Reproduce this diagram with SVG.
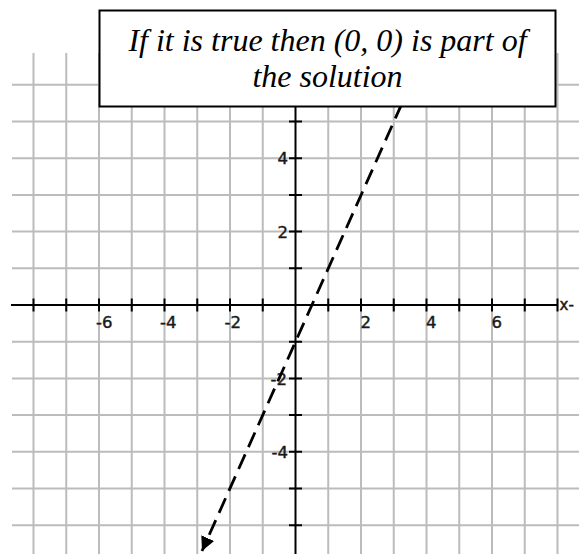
<svg xmlns="http://www.w3.org/2000/svg" width="584" height="554" viewBox="0 0 584 554">
  <style>
    .grid { stroke: #bcbcbc; stroke-width: 2; fill: none; }
    .axis { stroke: #000; stroke-width: 2; fill: none; }
    .tick { stroke: #000; stroke-width: 2; }
    .lbl { font-family: "DejaVu Sans", Verdana, sans-serif; font-size: 16.5px; fill: #1a1a1a; stroke: #1a1a1a; stroke-width: 0.45; }
    .ylbl { text-anchor: end; }
    .line { stroke: #000; stroke-width: 2.8; fill: none; stroke-dasharray: 16 8; }
    .callout { fill: #fff; stroke: #000; stroke-width: 2; }
    .ctext { font-family: "Liberation Serif", "Times New Roman", serif; font-style: italic; font-size: 32px; fill: #000; text-anchor: middle; }
  </style>
  <defs>
    <marker id="arrow" markerUnits="userSpaceOnUse" markerWidth="16" markerHeight="16" refX="14" refY="0" viewBox="0 -8 16 16" orient="auto">
      <path d="M0,-7 L14,0 L0,7 Z" fill="#000" stroke="none"/>
    </marker>
  </defs>
  <rect width="584" height="554" fill="#fff"/>

  <g id="grid">
    <path class="grid" d="M33.5,53V554 M66.25,53V554 M99,53V554 M131.75,53V554 M164.5,53V554 M197.25,53V554 M230,53V554 M262.75,53V554 M328.25,53V554 M361,53V554 M393.75,53V554 M426.5,53V554 M459.25,53V554 M492,53V554 M524.75,53V554 M557.5,53V554"/>
    <path class="grid" d="M12,84.8H579 M12,121.5H579 M12,158.2H579 M12,194.9H579 M12,231.6H579 M12,268.3H579 M12,341.7H579 M12,378.4H579 M12,415.1H579 M12,451.8H579 M12,488.5H579 M12,525.2H579"/>
  </g>

  <g id="axes">
    <path class="axis" d="M11,305H557.5"/>
    <path class="axis" d="M295.5,53V554"/>
    <path class="tick" d="M33.5,298.5V311.5 M66.25,298.5V311.5 M99,298.5V311.5 M131.75,298.5V311.5 M164.5,298.5V311.5 M197.25,298.5V311.5 M230,298.5V311.5 M262.75,298.5V311.5 M328.25,298.5V311.5 M361,298.5V311.5 M393.75,298.5V311.5 M426.5,298.5V311.5 M459.25,298.5V311.5 M492,298.5V311.5 M524.75,298.5V311.5 M557.5,298.5V311.5"/>
    <path class="tick" d="M289,84.8H302 M289,121.5H302 M289,158.2H302 M289,194.9H302 M289,231.6H302 M289,268.3H302 M289,341.7H302 M289,378.4H302 M289,415.1H302 M289,451.8H302 M289,488.5H302 M289,525.2H302"/>
  </g>

  <g id="axis-labels">
    <text class="lbl" x="96" y="327.5">-6</text>
    <text class="lbl" x="160" y="327.5">-4</text>
    <text class="lbl" x="224.5" y="327.5">-2</text>
    <text class="lbl" x="360.5" y="327.5">2</text>
    <text class="lbl" x="426" y="327.5">4</text>
    <text class="lbl" x="491.5" y="327.5">6</text>
    <text class="lbl" x="559.5" y="309.5" style="font-size:15px">x-</text>
    <text class="lbl ylbl" x="288" y="164">4</text>
    <text class="lbl ylbl" x="288" y="237.5">2</text>
    <text class="lbl ylbl" x="287" y="384.5">-2</text>
    <text class="lbl ylbl" x="288" y="458">-4</text>
  </g>

  <g id="connectors">
    <path id="boundary-line" class="line" d="M421.4,60 L202,551" marker-end="url(#arrow)"/>
  </g>

  <g id="callout">
    <rect class="callout" x="99.5" y="10.5" width="456" height="96"/>
    <text class="ctext" x="327.5" y="51">If it is true then (0, 0) is part of</text>
    <text class="ctext" x="327.5" y="87">the solution</text>
  </g>
</svg>
